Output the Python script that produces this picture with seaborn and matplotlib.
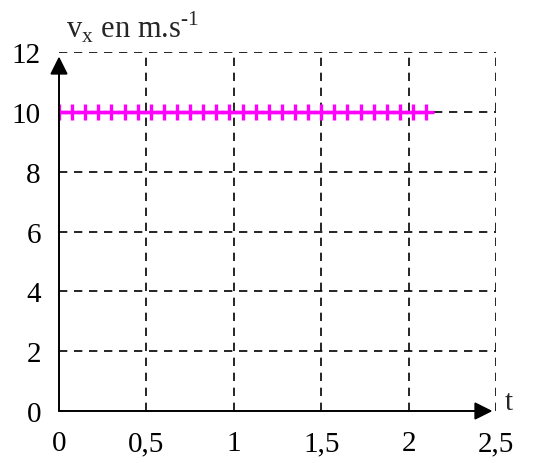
import pandas as pd
import matplotlib.pyplot as plt
import seaborn as sns

# measured points (t in s, vx in m/s)
t_values = [0, 0.075, 0.15, 0.225, 0.3, 0.375, 0.45, 0.525, 0.6, 0.675,
            0.75, 0.825, 0.9, 0.975, 1.05, 1.125, 1.2, 1.275, 1.35, 1.425,
            1.5, 1.575, 1.65, 1.725, 1.8, 1.875, 1.95, 2.025, 2.1]
vx_values = [10] * len(t_values)

x_ticks = [0, 0.5, 1, 1.5, 2, 2.5]
x_labels = ["0", "0,5", "1", "1,5", "2", "2,5"]
y_ticks = [0, 2, 4, 6, 8, 10, 12]

sns.set_style("white")
plt.rcParams['font.family'] = ['Liberation Serif', 'DejaVu Serif']
plt.rcParams['mathtext.fontset'] = 'custom'
plt.rcParams['mathtext.rm'] = 'Liberation Serif'

df = pd.DataFrame({"t": t_values, "vx": vx_values})

fig = plt.figure(figsize=(5.42, 4.64), dpi=100)
ax = fig.add_axes([59 / 542, 1 - 412 / 464, (496 - 59) / 542, (412 - 53) / 464])

# dashed grid
for xv in x_ticks[1:]:
    ax.plot([xv, xv], [0, 12], color="black", lw=1.2, ls=(0, (5, 4)), zorder=1)
for yv in y_ticks[1:]:
    ax.plot([0, 2.5], [yv, yv], color="black", lw=1.2, ls=(0, (5, 4)), zorder=1)

sns.lineplot(data=df, x="t", y="vx", ax=ax, color="#ff00ff", lw=2.4,
             marker="+", markersize=12, markeredgewidth=2.4,
             markeredgecolor="#ff00ff", zorder=3)

# axes with arrows
ax.annotate("", xy=(2.48, 0), xytext=(0, 0),
            arrowprops=dict(arrowstyle="-|>", color="black", lw=1.4,
                            mutation_scale=27, shrinkA=0, shrinkB=0),
            annotation_clip=False)
ax.annotate("", xy=(0, 11.85), xytext=(0, 0),
            arrowprops=dict(arrowstyle="-|>", color="black", lw=1.4,
                            mutation_scale=27, shrinkA=0, shrinkB=0),
            annotation_clip=False)

ax.set_xlim(0, 2.5)
ax.set_ylim(0, 12)
ax.set_xticks(x_ticks)
ax.set_xticklabels(x_labels)
ax.set_yticks(y_ticks)
ax.tick_params(axis="both", length=0, labelsize=21, colors="black")
ax.tick_params(axis="x", pad=14)
ax.tick_params(axis="y", pad=13)
for s in ax.spines.values():
    s.set_visible(False)
ax.set_xlabel("")
ax.set_ylabel("")

fig.text(66 / 542, 1 - 27 / 464, r"v$_\mathregular{x}$ en m.s$^\text{-1}$",
         fontsize=22, va="center", ha="left")
fig.text(505 / 542, 1 - 403 / 464, "t", fontsize=21, va="center", ha="left")

fig.savefig("out.png", dpi=100)
